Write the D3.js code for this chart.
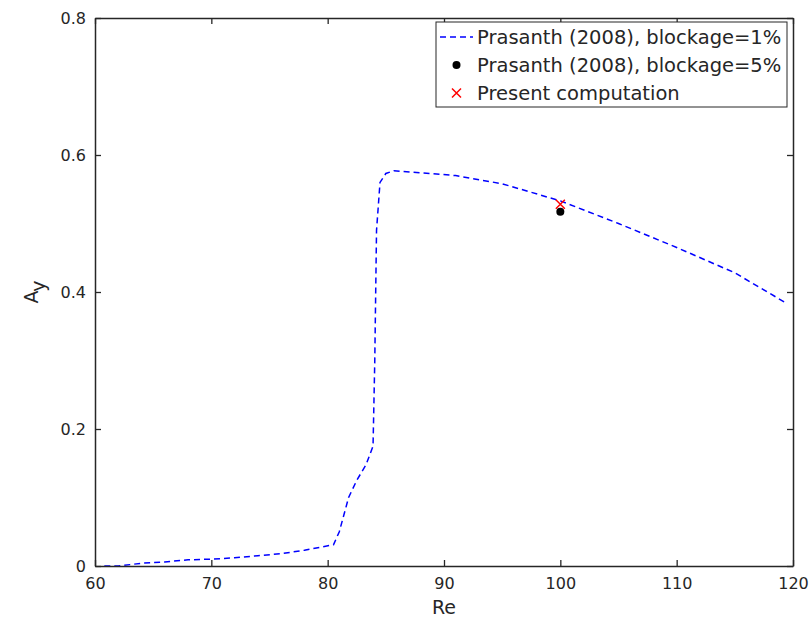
<!DOCTYPE html>
<html><head><meta charset="utf-8">
<script src="https://cdn.jsdelivr.net/npm/d3@7"></script>
<style>body{margin:0;background:#fff}text{font-family:"DejaVu Sans",sans-serif;fill:#262626}</style>
</head><body><svg id="c" width="811" height="624"></svg>
<script>
const lineRe = [60.8, 62, 63, 64, 66, 68, 70, 72, 74, 76, 78, 80.5, 81, 81.8, 82.5, 83.3, 83.9, 84.05, 84.2, 84.5, 85, 85.7, 88, 91, 95, 100, 105, 110, 115, 119.5];
const lineAy = [0, 0, 0.002, 0.004, 0.006, 0.009, 0.01, 0.012, 0.015, 0.018, 0.023, 0.031, 0.05, 0.1, 0.125, 0.148, 0.175, 0.3, 0.49, 0.56, 0.573, 0.577, 0.574, 0.57, 0.558, 0.533, 0.5, 0.465, 0.428, 0.383];
const dotRe = [100], dotAy = [0.517];
const crossRe = [100], crossAy = [0.528];
const xTicks = [60, 70, 80, 90, 100, 110, 120];
const yTicks = [0, 0.2, 0.4, 0.6, 0.8];
const legendLabels = ["Prasanth (2008), blockage=1%", "Prasanth (2008), blockage=5%", "Present computation"];

const svg = d3.select("#c");
const L = 95, R = 793, T = 18, B = 566;
const x = d3.scaleLinear().domain([60, 120]).range([L, R]);
const y = d3.scaleLinear().domain([0, 0.8]).range([B, T]);
const ax = "#262626";

const g = svg.append("g");
const line = d3.line().x((d,i)=>x(lineRe[i])).y((d,i)=>y(lineAy[i]));
g.append("path").datum(lineRe).attr("d", line).attr("fill","none")
 .attr("stroke","#0000ff").attr("stroke-width",1.5).attr("stroke-dasharray","6,4");
g.selectAll(".dot").data(dotRe).enter().append("circle")
 .attr("cx",(d)=>x(d)).attr("cy",(d,i)=>y(dotAy[i])).attr("r",4).attr("fill","#000");
const cs = 4.5;
crossRe.forEach((d,i)=>{
  const cx = x(d), cy = y(crossAy[i]);
  g.append("path").attr("d",`M${cx-cs},${cy-cs}L${cx+cs},${cy+cs}M${cx-cs},${cy+cs}L${cx+cs},${cy-cs}`)
   .attr("stroke","#ff0000").attr("stroke-width",1.5);
});

const fs = 16;
const xb = svg.append("g").attr("transform",`translate(0,${B})`)
  .call(d3.axisBottom(x).tickValues(xTicks).tickSizeInner(-6).tickSizeOuter(0).tickPadding(12).tickFormat(d3.format("d")));
const xt = svg.append("g").attr("transform",`translate(0,${T})`)
  .call(d3.axisTop(x).tickValues(xTicks).tickSizeInner(-6).tickSizeOuter(0).tickFormat(""));
const yl = svg.append("g").attr("transform",`translate(${L},0)`)
  .call(d3.axisLeft(y).tickValues(yTicks).tickSizeInner(-6).tickSizeOuter(0).tickPadding(9).tickFormat(d=>d===0?"0":d3.format(".1f")(d)));
const yr = svg.append("g").attr("transform",`translate(${R},0)`)
  .call(d3.axisRight(y).tickValues(yTicks).tickSizeInner(-6).tickSizeOuter(0).tickFormat(""));
[xb,xt,yl,yr].forEach(a=>{
  a.selectAll("path").attr("stroke",ax).attr("stroke-width",1.5);
  a.selectAll("line").attr("stroke",ax).attr("stroke-width",1.3);
  a.selectAll("text").attr("font-size",fs).attr("font-family","DejaVu Sans").attr("fill",ax);
});

svg.append("text").attr("x",(L+R)/2).attr("y",614).attr("text-anchor","middle")
 .attr("font-size",19).text("Re");
const yt = svg.append("text").attr("transform",`translate(38,${(T+B)/2}) rotate(-90)`)
 .attr("text-anchor","middle").attr("font-size",19);
yt.append("tspan").text("A");
yt.append("tspan").attr("dy",7).attr("font-size",19).text("y");

const lg = svg.append("g");
lg.append("rect").attr("x",436).attr("y",22).attr("width",351).attr("height",85)
 .attr("fill","#fff").attr("stroke",ax).attr("stroke-width",1);
const rows = [37, 65, 93];
lg.append("line").attr("x1",440).attr("x2",473).attr("y1",rows[0]).attr("y2",rows[0])
 .attr("stroke","#0000ff").attr("stroke-width",1.5).attr("stroke-dasharray","6,4");
lg.append("circle").attr("cx",456.5).attr("cy",rows[1]).attr("r",4).attr("fill","#000");
{
  const cx=456.5, cy=rows[2];
  lg.append("path").attr("d",`M${cx-cs},${cy-cs}L${cx+cs},${cy+cs}M${cx-cs},${cy+cs}L${cx+cs},${cy-cs}`)
   .attr("stroke","#ff0000").attr("stroke-width",1.5);
}
lg.selectAll(".lt").data(legendLabels).enter().append("text")
 .attr("x",477).attr("y",(d,i)=>rows[i]+7).attr("font-size",19.5).text(d=>d);
</script></body></html>
